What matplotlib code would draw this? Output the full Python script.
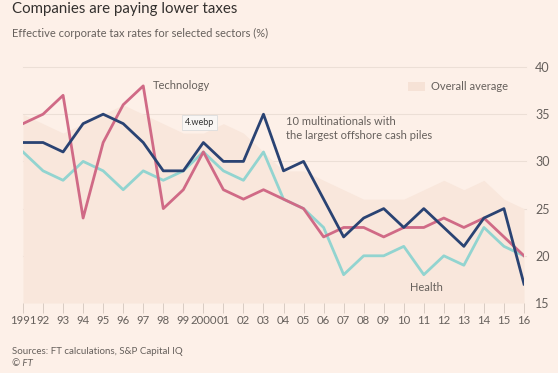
import matplotlib.pyplot as plt
from matplotlib.patches import Rectangle

# effective tax rates (%), 1991-2016
years = list(range(1991, 2017))
tech = [34, 35, 37, 24, 32, 36, 38, 25, 27, 31, 27, 26, 27, 26, 25, 22, 23, 23, 22, 23, 23, 24, 23, 24, 22, 20]
multinationals = [32, 32, 31, 34, 35, 34, 32, 29, 29, 32, 30, 30, 35, 29, 30, 26, 22, 24, 25, 23, 25, 23, 21, 24, 25, 17]
health = [31, 29, 28, 30, 29, 27, 29, 28, 29, 31, 29, 28, 31, 26, 25, 23, 18, 20, 20, 21, 18, 20, 19, 23, 21, 20]
overall = [35, 34, 33, 34, 35, 36, 35, 34, 33, 33, 34, 33, 31, 29, 29, 28, 27, 26, 26, 26, 27, 28, 27, 28, 26, 25]

xlabels = ["1991"] + ["%02d" % (y % 100) for y in years[1:]]
xlabels[9] = "2000"

bg = "#fdf0e8"
grey = "#66605c"

plt.rcParams['font.family'] = ['Lato', 'DejaVu Sans']

fig = plt.figure(figsize=(5.58, 3.73), dpi=100, facecolor=bg)
ax = fig.add_axes([23 / 558, 1 - 303 / 373, 501 / 558, 236 / 373])
ax.set_facecolor(bg)

ax.fill_between(years, overall, 15, color="#f9e7dc", lw=0, zorder=1)
for v in [20, 25, 30, 35, 40]:
    ax.axhline(v, color="#ecdfd6", lw=0.8, zorder=0, xmax=1.003, clip_on=False)

ax.plot(years, health, color="#92d4d0", lw=2, zorder=3)
ax.plot(years, tech, color="#d06a86", lw=2, zorder=4)
ax.plot(years, multinationals, color="#2a4373", lw=2, zorder=5)

ax.set_xlim(1991, 2016)
ax.set_ylim(15, 40)
for s in ax.spines.values():
    s.set_visible(False)

ax.yaxis.tick_right()
ax.set_yticks([15, 20, 25, 30, 35, 40])
ax.tick_params(axis="y", length=0, pad=8, labelsize=9, labelcolor=grey)
ax.set_xticks(years)
ax.set_xticklabels(xlabels)
ax.tick_params(axis="x", length=7, width=0.7, color="#d9ccc3", pad=1.5,
               labelsize=8.2, labelcolor=grey)

ax.text(1997.5, 38.0, "Technology", fontsize=8, color=grey, va="center")
ax.text(2004.1, 33.5, "10 multinationals with\nthe largest offshore cash piles",
        fontsize=8, color=grey, va="center", linespacing=1.35)
ax.text(2010.3, 16.6, "Health", fontsize=8, color=grey, va="center")
ax.add_patch(Rectangle((2010.2, 37.5), 0.85, 0.9, color="#f6e2d6", lw=0, zorder=2))
ax.text(2011.35, 37.95, "Overall average", fontsize=8, color=grey, va="center")
ax.text(1999.8, 34.1, "4.webp", fontsize=6.5, color="#333333", ha="center", va="center",
        zorder=6, bbox=dict(boxstyle="square,pad=0.35", fc="#f9f6f4", ec="#dddddd", lw=0.6))

fig.text(12 / 558, 1 - 9 / 373, "Companies are paying lower taxes", fontsize=10.8,
         color="#33302e", va="center")
fig.text(12 / 558, 1 - 33 / 373, "Effective corporate tax rates for selected sectors (%)",
         fontsize=8, color=grey, va="center")
fig.text(12 / 558, 1 - 351 / 373, "Sources: FT calculations, S&P Capital IQ",
         fontsize=7, color=grey, va="center")
fig.text(12 / 558, 1 - 364 / 373, "© FT", fontsize=7, color=grey, va="center", style="italic")

fig.savefig("out.png", dpi=100, facecolor=bg)
